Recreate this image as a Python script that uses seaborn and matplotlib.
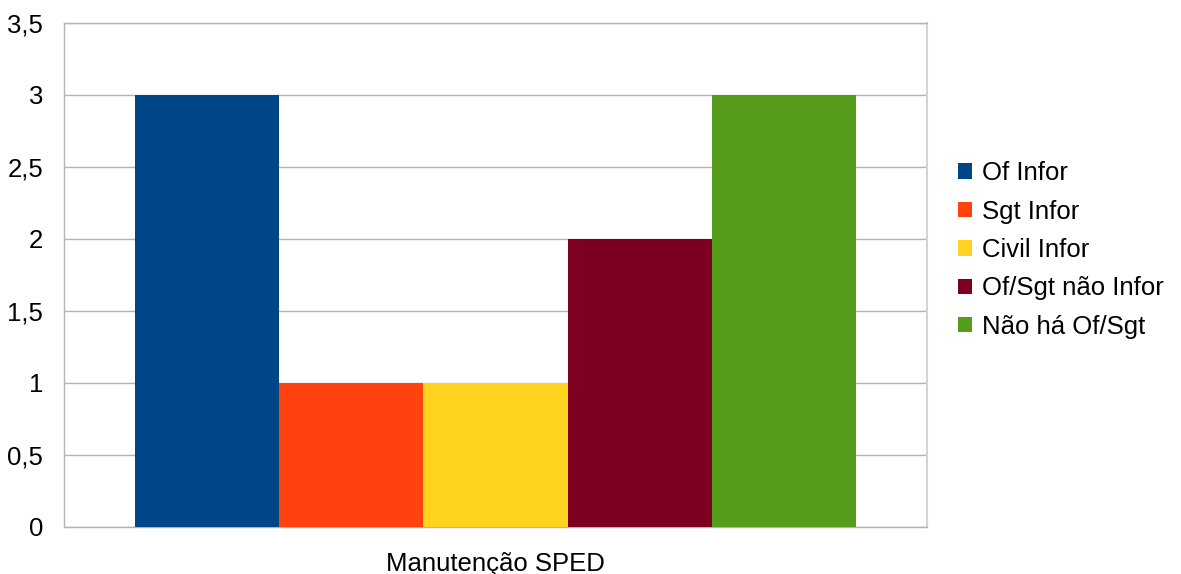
import matplotlib
matplotlib.use("Agg")
import matplotlib.pyplot as plt
from matplotlib.patches import Patch
from matplotlib.ticker import FuncFormatter
import seaborn as sns
import pandas as pd

category = ["Manutenção SPED"]
series = ["Of Infor", "Sgt Infor", "Civil Infor", "Of/Sgt não Infor", "Não há Of/Sgt"]
values = [3, 1, 1, 2, 3]
colors = ["#004586", "#ff420e", "#ffd320", "#7e0021", "#579d1c"]
yticks = [0, 0.5, 1, 1.5, 2, 2.5, 3, 3.5]

df = pd.DataFrame({"cat": category * len(series), "serie": series, "valor": values})

sns.set_style("white")
plt.rcParams["font.family"] = ["Liberation Sans", "DejaVu Sans"]
plt.rcParams["text.color"] = "black"
plt.rcParams["xtick.color"] = "black"
plt.rcParams["ytick.color"] = "black"

FS = 18.5

fig = plt.figure(figsize=(11.81, 5.74), dpi=100)
ax = fig.add_axes([64 / 1181, 1 - 527 / 574, (927 - 64) / 1181, (527 - 23) / 574])

sns.barplot(data=df, x="cat", y="valor", hue="serie", hue_order=series,
            palette=colors, width=0.835, saturation=1, ax=ax, legend=False,
            edgecolor="none", linewidth=0, zorder=3)

ax.set_xlim(-0.5, 0.5)
ax.set_ylim(0, 3.5)
ax.set_yticks(yticks)
ax.yaxis.set_major_formatter(FuncFormatter(lambda v, p: f"{v:g}".replace(".", ",")))
ax.grid(axis="y", color="#b3b3b3", linewidth=1, zorder=0)
ax.set_xlabel("")
ax.set_ylabel("")

# category axis: ticks at the plot edges, label centred below
ax.set_xticks([-0.5, 0.5], minor=False)
ax.set_xticklabels(["", ""])
ax.set_xticks([0], minor=True)
ax.set_xticklabels(category, minor=True)
ax.tick_params(axis="x", which="major", length=11, width=1, color="#b3b3b3", direction="out")
ax.tick_params(axis="x", which="minor", length=0, labelsize=FS, pad=18, labelcolor="black")
ax.tick_params(axis="y", length=11, width=1, color="#b3b3b3", direction="out",
               labelsize=FS, pad=4, labelcolor="black")

for side in ["left", "top", "bottom"]:
    ax.spines[side].set_visible(True)
    ax.spines[side].set_color("#b3b3b3")
    ax.spines[side].set_linewidth(1)
ax.spines["right"].set_visible(True)
ax.spines["right"].set_color("#d4d4d4")
ax.spines["right"].set_linewidth(1.5)

handles = [Patch(facecolor=c, edgecolor="none") for c in colors]
fig.legend(handles, series, loc="center left", bbox_to_anchor=(0.811, 0.5645),
           frameon=False, fontsize=FS, handlelength=0.55, handleheight=0.55,
           handletextpad=0.4, labelspacing=0.56, borderaxespad=0, borderpad=0)

fig.savefig("out.png", dpi=100, facecolor="white")
